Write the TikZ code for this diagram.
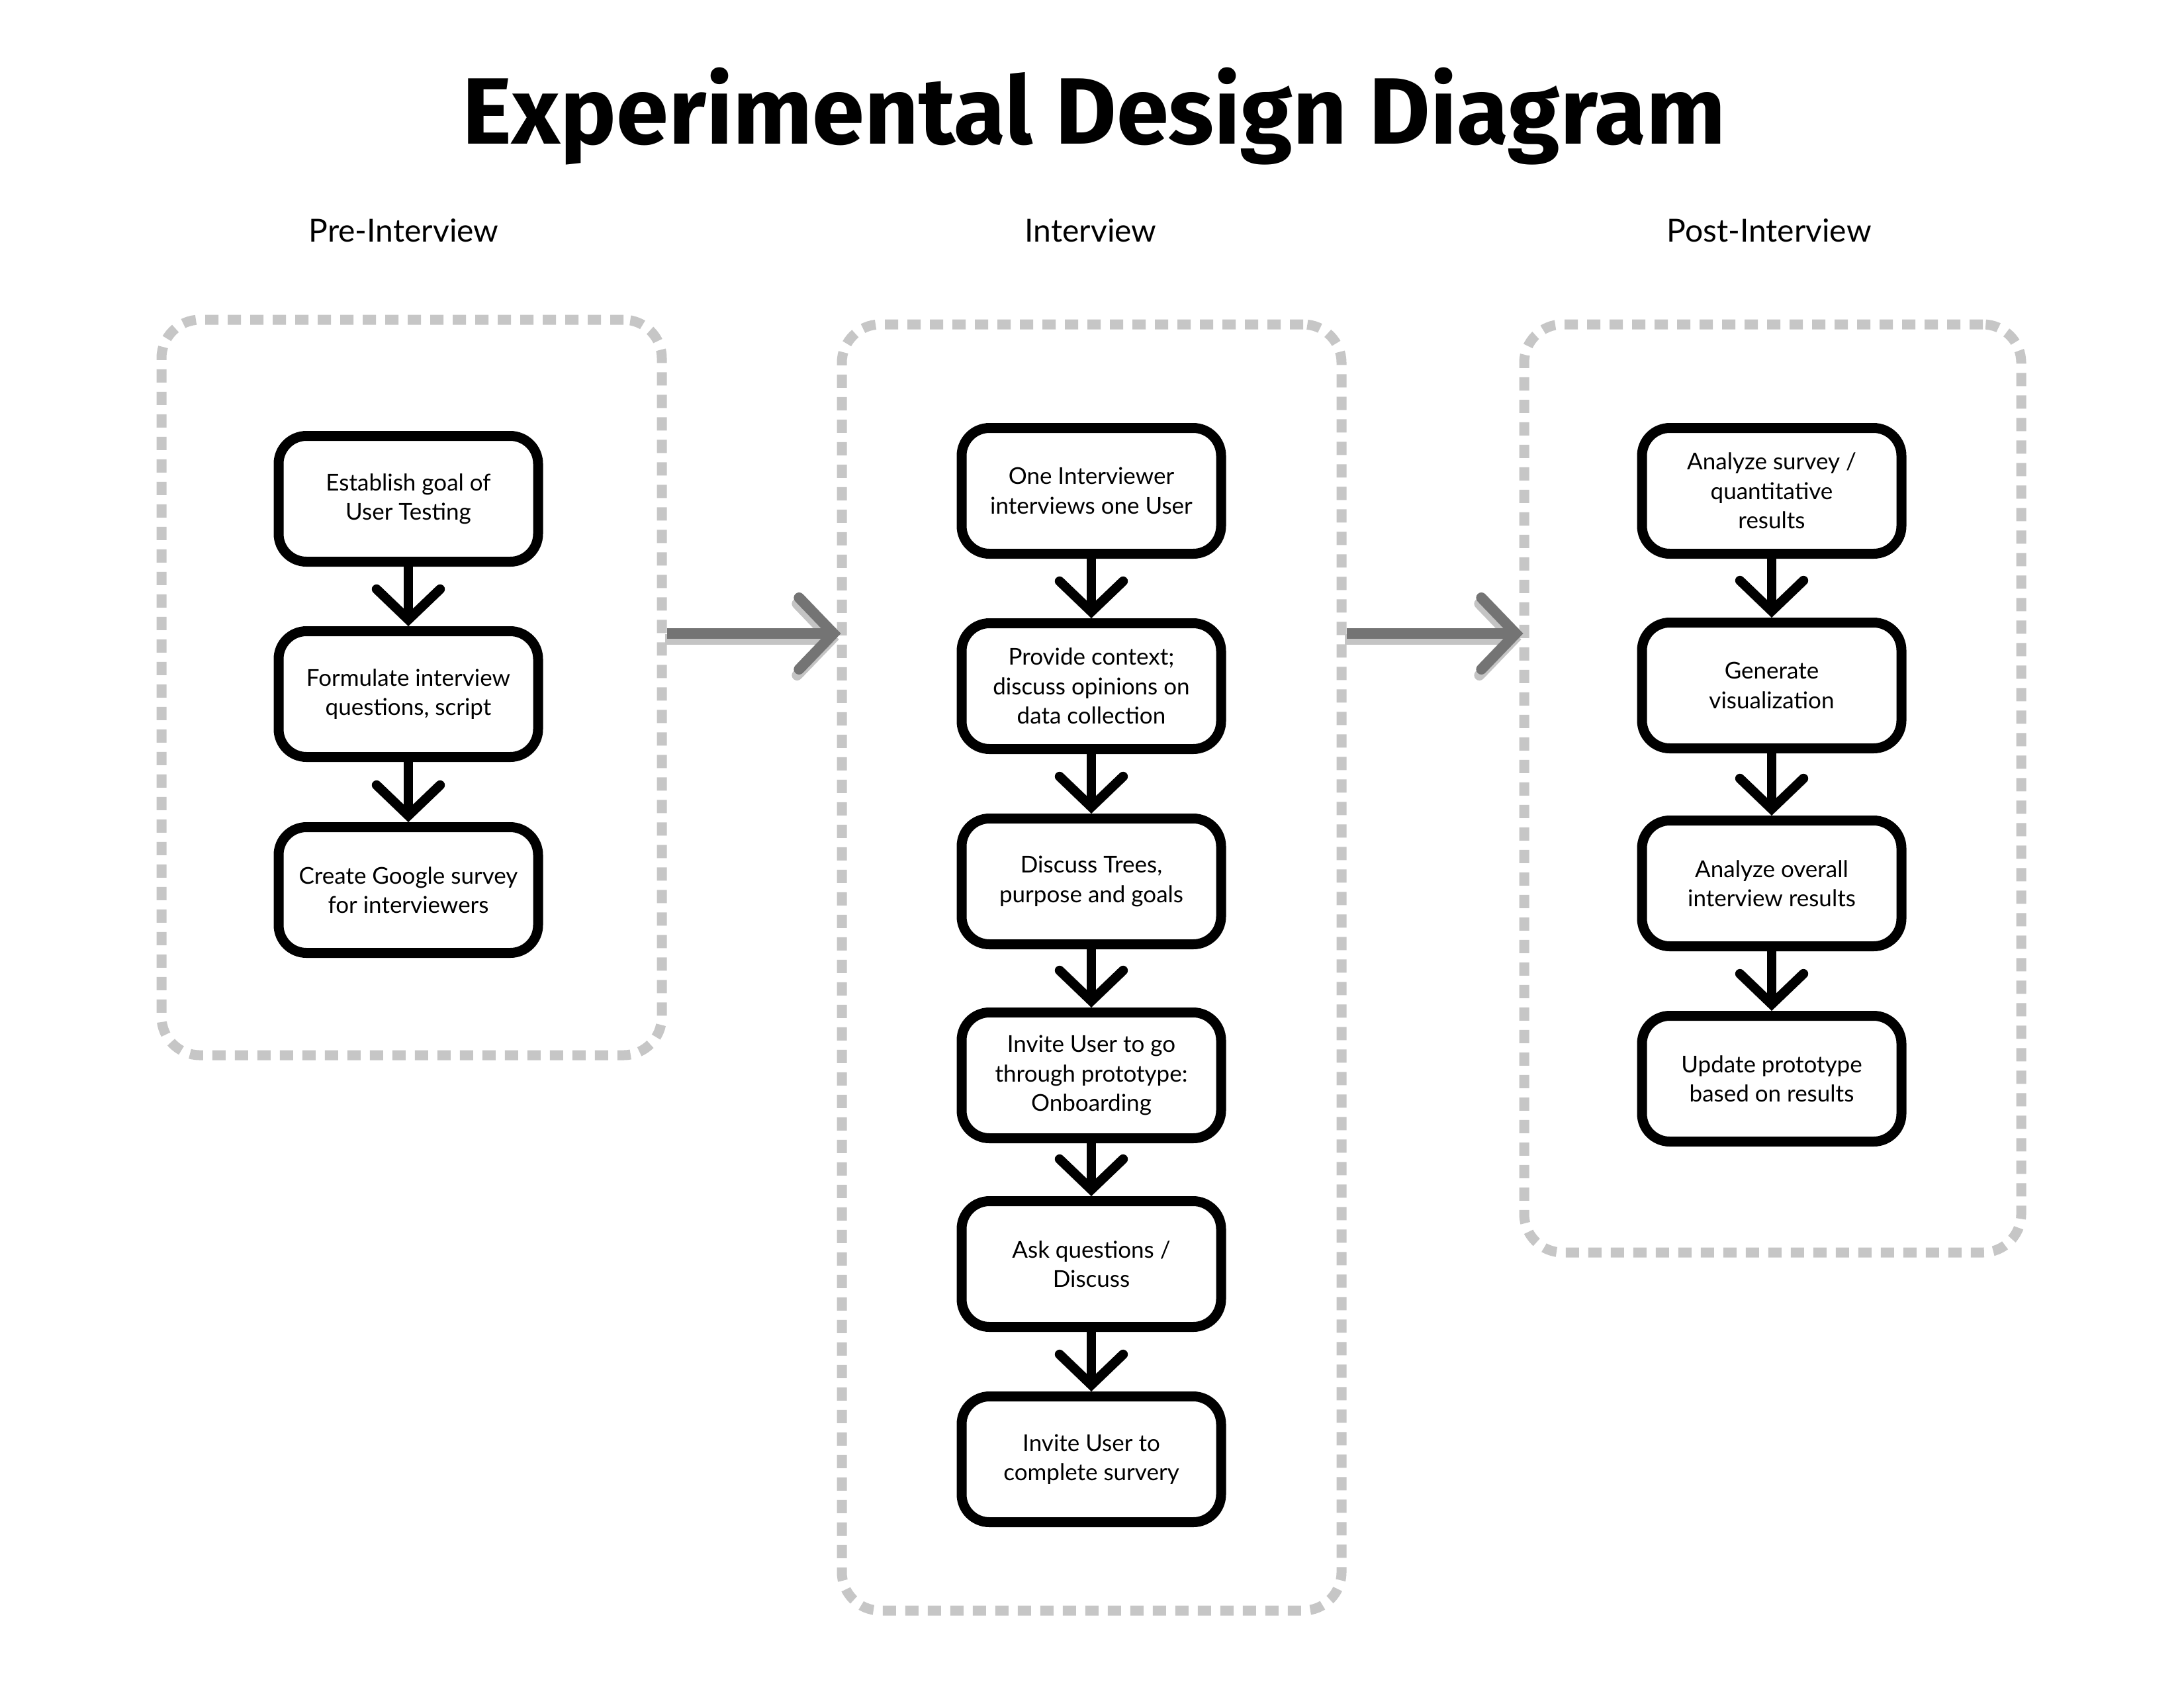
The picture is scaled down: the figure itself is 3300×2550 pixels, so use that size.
\documentclass[tikz,border=0pt]{standalone}
\usepackage{fontspec}
\setmainfont{Lato}
\newfontfamily\titlefont{Fira Sans}
\usetikzlibrary{arrows.meta,calc}
\definecolor{dashgray}{HTML}{C6C6C6}
\definecolor{arrgray}{HTML}{747474}
\definecolor{shadgray}{HTML}{C4C4C4}
\begin{document}
\begin{tikzpicture}[x=0.25pt,y=-0.25pt,
  container/.style={draw=dashgray, line width=3.75pt, dash pattern=on 5pt off 3.5pt, rounded corners=14.5pt, inner sep=0pt},
  stepbox/.style={draw=black, fill=white, line width=3.75pt, rounded corners=10.5pt, minimum width=98pt, minimum height=47.5pt, align=center, inner sep=0pt, font=\fontsize{8.75pt}{11.1pt}\selectfont},
  flow/.style={draw=black, line width=3.6pt, -{Straight Barb[length=11.5pt 0, width=24pt 0, line cap=round, line join=miter]}},
  phase/.style={draw=arrgray, line width=4pt, -{Straight Barb[length=13pt 0, width=27pt 0, line cap=round, line join=miter]}, shorten >=-1.5pt},
  phaseshadow/.style={phase, draw=shadgray, transform canvas={shift={(-0.75pt,-2.25pt)}}},
  heading/.style={anchor=base, font=\fontsize{12pt}{14.5pt}\selectfont},
  titletext/.style={anchor=base, font=\titlefont\bfseries\fontsize{35.6pt}{40pt}\selectfont}
]
\useasboundingbox (0,0) rectangle (3300,2550);
\fill[white] (0,0) rectangle (3300,2550);

% title and headings
\node[titletext] (title) at (1653,217) {Experimental Design Diagram};
\node[heading] (h1) at (610,365) {Pre-Interview};
\node[heading] (h2) at (1648,365) {Interview};
\node[heading] (h3) at (2673,365) {Post-Interview};

% containers
\node[container, minimum width=189pt, minimum height=277.75pt] (L) at (622,1038.5) {};
\node[container, minimum width=188.75pt, minimum height=485.75pt] (M) at (1649.5,1461.5) {};
\node[container, minimum width=187.75pt, minimum height=350.5pt] (R) at (2678.5,1191) {};

% phase arrows
\coordinate (ay) at (0,957);
\draw[phaseshadow] (L.east |- ay) -- (M.west |- ay);
\draw[phase] (L.east |- ay) -- (M.west |- ay);
\draw[phaseshadow] (M.east |- ay) -- (R.west |- ay);
\draw[phase] (M.east |- ay) -- (R.west |- ay);

% left column
\node[stepbox] (l1) at (617,753.5) {Establish goal of\\User Testing};
\node[stepbox] (l2) at (617,1048.5) {Formulate interview\\questions, script};
\node[stepbox] (l3) at (617,1344.5) {Create Google survey\\for interviewers};

% middle column
\node[stepbox] (m1) at (1649,741.5) {One Interviewer\\interviews one User};
\node[stepbox] (m2) at (1649,1036.5) {Provide context;\\discuss opinions on\\data collection};
\node[stepbox] (m3) at (1649,1331.5) {Discuss Trees,\\purpose and goals};
\node[stepbox] (m4) at (1649,1624.5) {Invite User to go\\through prototype:\\Onboarding};
\node[stepbox] (m5) at (1649,1909.5) {Ask questions /\\Discuss};
\node[stepbox] (m6) at (1649,2204.5) {Invite User to\\complete survery};

% right column
\node[stepbox] (r1) at (2677,741.5) {Analyze survey /\\quantitative\\results};
\node[stepbox] (r2) at (2677,1035.5) {Generate\\visualization};
\node[stepbox] (r3) at (2677,1334.5) {Analyze overall\\interview results};
\node[stepbox] (r4) at (2677,1629.5) {Update prototype\\based on results};

% flow arrows
\draw[flow] (l1) -- (l2);
\draw[flow] (l2) -- (l3);
\draw[flow] (m1) -- (m2);
\draw[flow] (m2) -- (m3);
\draw[flow] (m3) -- (m4);
\draw[flow] (m4) -- (m5);
\draw[flow] (m5) -- (m6);
\draw[flow] (r1) -- (r2);
\draw[flow] (r2) -- (r3);
\draw[flow] (r3) -- (r4);
\end{tikzpicture}
\end{document}
